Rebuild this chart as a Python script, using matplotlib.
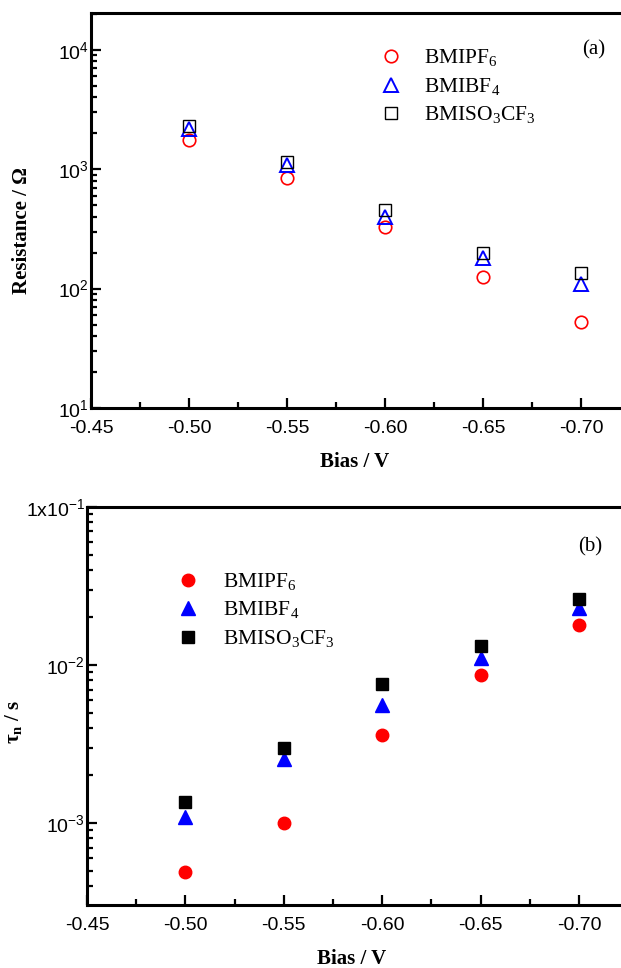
import numpy as np
import matplotlib.pyplot as plt
from matplotlib.ticker import FixedLocator, FuncFormatter, LogLocator, NullFormatter
from matplotlib.lines import Line2D

plt.rcParams['mathtext.fontset'] = 'custom'
plt.rcParams['mathtext.rm'] = 'Liberation Serif'

bias = np.array([-0.50, -0.55, -0.60, -0.65, -0.70])
names = ['BMIPF$_\\mathregular{6}$', 'BMIBF$_\\mathregular{4}$', 'BMISO$_\\mathregular{3}$CF$_\\mathregular{3}$']

# (a) resistance / ohm
res_pf6 = [1740, 851, 327, 124, 52]
res_bf4 = [2180, 1075, 396, 180, 109]
res_so3 = [2310, 1145, 457, 198, 134]

# (b) electron lifetime / s
tau_pf6 = [4.9e-4, 1.0e-3, 3.63e-3, 8.7e-3, 1.79e-2]
tau_bf4 = [1.10e-3, 2.55e-3, 5.55e-3, 1.10e-2, 2.29e-2]
tau_so3 = [1.35e-3, 2.99e-3, 7.6e-3, 1.31e-2, 2.6e-2]

xticks = [-0.45, -0.50, -0.55, -0.60, -0.65, -0.70]

fig = plt.figure(figsize=(6.21, 9.68), dpi=100)
W, H = 621, 968
ax1 = fig.add_axes([91 / W, 1 - 408 / H, 549 / W, 395 / H])
ax2 = fig.add_axes([87 / W, 1 - 905 / H, 551 / W, 398 / H])

serif = 'Liberation Serif'
sans = 'Liberation Sans'


def style(ax):
    ax.set_yscale('log')
    ax.set_xlim(-0.45, -0.73)
    for s in ax.spines.values():
        s.set_linewidth(2.2)
    ax.xaxis.set_major_locator(FixedLocator(xticks))
    ax.xaxis.set_minor_locator(FixedLocator([-0.475, -0.525, -0.575, -0.625, -0.675, -0.725]))
    ax.xaxis.set_major_formatter(FuncFormatter(lambda v, p: '%.2f' % v))
    ax.yaxis.set_minor_locator(LogLocator(base=10, subs=np.arange(2, 10)))
    ax.yaxis.set_minor_formatter(NullFormatter())
    ax.tick_params(which='both', direction='in', top=False, right=False, width=1.6)
    ax.tick_params(which='major', length=7)
    ax.tick_params(which='minor', length=4.3)
    ax.tick_params(axis='x', which='major', pad=9)
    ax.tick_params(axis='y', which='major', pad=1.5)
    ax.set_xlabel('Bias / V', fontfamily=serif, fontweight='bold', fontsize=15)


def fix_labels(ax):
    for lab in ax.get_xticklabels() + ax.get_yticklabels():
        lab.set_fontfamily(sans)
        lab.set_fontsize(14)


# panel (a)
style(ax1)
ax1.set_ylim(10, 2.03e4)
ax1.plot(bias, res_pf6, 'o', ms=9, mfc='none', mec='red', mew=1.2)
ax1.plot(bias, res_bf4, '^', ms=10, mfc='none', mec='blue', mew=1.4)
ax1.plot(bias, res_so3, 's', ms=8, mfc='none', mec='black', mew=1.0)
ax1.yaxis.set_major_formatter(FuncFormatter(lambda v, p: '$\\mathdefault{10^{%d}}$' % round(np.log10(v))))
fix_labels(ax1)
ax1.set_ylabel('Resistance / Ω', fontfamily=serif, fontweight='bold', fontsize=15)
ax1.xaxis.set_label_coords(0.481, -0.112)
ax1.yaxis.set_label_coords(-0.107, 0.45)
ax1.text(0.916, 0.906, '(a)', transform=ax1.transAxes, fontfamily=serif, fontsize=15,
         ha='center', va='center')
h1 = [Line2D([], [], ls='none', marker='o', ms=9, mfc='none', mec='red', mew=1.2),
      Line2D([], [], ls='none', marker='^', ms=10, mfc='none', mec='blue', mew=1.4),
      Line2D([], [], ls='none', marker='s', ms=8, mfc='none', mec='black', mew=1.0)]
ax1.legend(h1, names, loc='upper left', bbox_to_anchor=(0.527, 0.912), frameon=False,
           borderpad=0, borderaxespad=0, handlelength=1, handletextpad=1.05,
           labelspacing=0.32, prop={'family': serif, 'size': 15.5})

# panel (b)
style(ax2)
ax2.set_ylim(3.03e-4, 0.1)
ax2.plot(bias, tau_pf6, 'o', ms=9, color='red')
ax2.plot(bias, tau_bf4, '^', ms=10, color='blue')
ax2.plot(bias, tau_so3, 's', ms=8, color='black')
tau_labels = {-1: '$\\mathdefault{1x10^{-1}}$', -2: '$\\mathdefault{10^{-2}}$', -3: '$\\mathdefault{10^{-3}}$'}
ax2.yaxis.set_major_formatter(FuncFormatter(lambda v, p: tau_labels.get(round(np.log10(v)), '')))
fix_labels(ax2)
ax2.set_ylabel('τ$_\\mathregular{n}$ / s', fontfamily=serif, fontweight='bold', fontsize=15)
ax2.xaxis.set_label_coords(0.481, -0.111)
ax2.yaxis.set_label_coords(-0.112, 0.46)
ax2.text(0.913, 0.90, '(b)', transform=ax2.transAxes, fontfamily=serif, fontsize=15,
         ha='center', va='center')
h2 = [Line2D([], [], ls='none', marker='o', ms=9, color='red'),
      Line2D([], [], ls='none', marker='^', ms=10, color='blue'),
      Line2D([], [], ls='none', marker='s', ms=8, color='black')]
ax2.legend(h2, names, loc='upper left', bbox_to_anchor=(0.163, 0.839), frameon=False,
           borderpad=0, borderaxespad=0, handlelength=1, handletextpad=1.15,
           labelspacing=0.32, prop={'family': serif, 'size': 15.5})

fig.savefig('out.png', dpi=100)
